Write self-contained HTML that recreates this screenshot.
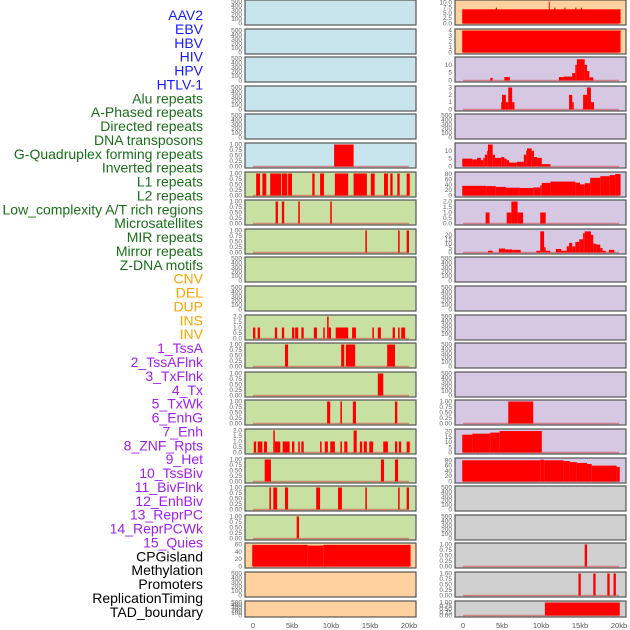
<!DOCTYPE html>
<html><head><meta charset="utf-8"><style>
html,body{margin:0;padding:0;background:#fff;width:630px;height:630px;overflow:hidden}
svg{display:block;font-family:"Liberation Sans",sans-serif}
</style></head><body>
<svg id="chart" width="630" height="630" viewBox="0 0 630 630"></svg>
<script>
// ---- track labels ----
const labelNames = ["AAV2","EBV","HBV","HIV","HPV","HTLV-1","Alu repeats","A-Phased repeats","Directed repeats","DNA transposons","G-Quadruplex forming repeats","Inverted repeats","L1 repeats","L2 repeats","Low_complexity A/T rich regions","Microsatellites","MIR repeats","Mirror repeats","Z-DNA motifs","CNV","DEL","DUP","INS","INV","1_TssA","2_TssAFlnk","3_TxFlnk","4_Tx","5_TxWk","6_EnhG","7_Enh","8_ZNF_Rpts","9_Het","10_TssBiv","11_BivFlnk","12_EnhBiv","13_ReprPC","14_ReprPCWk","15_Quies","CPGisland","Methylation","Promoters","ReplicationTiming","TAD_boundary"];
const labelColorGroups = [6,13,5,15,5]; // blue, green, orange, purple, black

// ---- x axis ----
const xTickValues = [0,5,10,15,20];
const xTickLabels = ["0","5kb","10kb","15kb","20kb"];

// ---- left column data: [startKb, endKb, value] ----
const leftRow5 = [[10.4,12.9,1]];
const leftRow6 = [[0.4,0.9,1],[1.2,1.7,1],[2.2,3.6,1],[3.7,4.4,1],[4.5,5.0,1],[7.6,7.9,1],[8.6,9.1,1],[10.5,12.2,1],[12.9,14.6,1],[15.1,15.6,1],[16.8,17.3,1],[17.6,17.9,1],[18.5,18.8,1],[19.7,20.1,1]];
const leftRow7 = [[2.9,3.2,1],[3.7,4.0,1],[5.8,6.0,1],[9.9,10.1,1]];
const leftRow8 = [[14.4,14.6,1],[18.6,18.8,1],[19.7,20.0,1]];
const leftRow11 = [[0,0.3,1],[0.6,0.9,1],[2.8,3.1,1],[3.7,4.0,1],[5.0,5.3,1],[5.4,5.8,1],[6.2,6.5,1],[7.8,8.2,1],[9.0,9.2,1],[9.5,9.7,2],[9.7,10.0,1],[10.6,12.2,1],[12.7,13.2,1],[15.3,15.5,1],[16.0,16.4,1],[17.9,18.2,1],[18.6,18.8,1],[19.0,19.5,1]];
const leftRow12 = [[4.1,4.5,1],[11.3,11.7,1],[11.9,13.1,1],[17.2,18.2,1]];
const leftRow13 = [[16.0,16.7,1]];
const leftRow14 = [[9.5,9.9,1],[11.2,11.4,1],[12.8,13.2,1],[18.2,18.5,1]];
const leftRow15 = [[0.1,0.4,1],[0.6,1.2,1],[1.4,1.8,1],[2.6,2.8,2],[2.8,3.5,1],[3.8,4.7,1],[5.0,5.3,1],[5.8,6.0,1],[6.2,6.5,1],[8.6,8.8,1],[9.2,9.6,1],[9.9,10.5,1],[11.2,11.4,1],[11.7,12.1,1],[12.9,13.3,2],[13.7,14.0,1],[14.2,14.6,1],[14.9,15.4,1],[16.7,17.3,1],[18.2,18.5,1],[18.7,19.0,1],[19.7,20.1,1]];
const leftRow16 = [[1.5,2.3,1],[16.4,16.8,1],[18.2,18.6,1]];
const leftRow17 = [[2.1,2.3,1],[2.6,3.1,1],[4.1,4.5,1],[8.1,8.6,1],[10.9,11.4,1],[14.4,14.6,1],[18.6,18.8,1],[19.7,20.0,1]];
const leftRow18 = [[5.6,5.9,1]];
const leftRow19 = [[-0.1,7.0,59],[7.0,9.0,57],[9.0,20.2,59]];

// ---- right column data ----
const rightRow0 = [[-0.1,20.2,6.7],[4.2,4.35,7.5],[11.0,11.12,10.4],[11.7,11.85,7.5],[13.0,13.15,7.5],[14.4,14.55,7.5],[15.1,15.25,7.5]];
const rightRow1 = [[-0.1,20.2,4]];
const rightRow2 = [[3.5,3.8,1.7],[5.3,6.0,2.2],[12.3,12.9,2.2],[12.9,14.0,2.5],[14.0,14.4,4.7],[14.4,14.6,10],[14.6,15.6,13.5],[15.6,15.9,10],[15.9,16.2,6],[16.2,16.7,2]];
const rightRow3 = [[4.9,5.0,1],[5.0,5.5,2],[5.5,5.8,1],[5.8,6.3,3],[6.3,6.6,1],[13.6,14.0,2],[14.0,14.2,1],[15.4,15.9,2],[15.9,16.4,3],[16.4,16.8,1]];
const rightRow5 = [[-0.1,1.2,5],[1.2,1.8,4.5],[1.8,2.3,5.5],[2.3,2.6,4],[2.6,2.8,5.5],[2.8,3.1,7.5],[3.1,3.2,10],[3.2,3.8,14],[3.8,4.1,7.5],[4.1,4.9,5.5],[4.9,5.3,6],[5.3,5.6,5],[5.6,5.9,4],[5.9,6.9,2.5],[6.9,7.8,3],[7.8,8.1,7.5],[8.1,8.2,10],[8.2,8.8,11.5],[8.8,9.1,10],[9.1,9.5,6],[9.5,10.1,5.5],[10.1,11.2,1.5]];
const rightRow6 = [[-0.1,3.0,36],[3.0,4.2,35],[4.2,5.5,32],[5.5,7.3,29],[7.3,9.0,28],[9.0,9.9,30],[9.9,10.1,38],[10.1,11.2,47],[11.2,14.4,52],[14.4,15.0,48],[15.0,15.6,41],[15.6,16.3,46],[16.3,17.6,66],[17.6,18.8,72],[18.8,19.5,76],[19.5,20.2,80]];
const rightRow7 = [[2.9,3.4,1],[5.6,6.2,1],[6.2,7.0,2],[7.0,7.7,1],[9.9,10.6,1]];
const rightRow8 = [[3.2,3.8,2],[4.6,5.4,4.5],[5.4,6.3,3.5],[6.3,7.4,3],[9.4,9.9,2],[9.9,10.4,24],[10.4,10.6,6],[10.6,11.2,2],[11.9,12.6,4],[12.6,13.3,2],[13.3,13.6,7],[13.6,14.0,11],[14.0,14.4,7],[14.4,14.9,12],[14.9,15.4,15],[15.4,15.6,22],[15.6,16.4,24],[16.4,16.7,20],[16.7,17.1,10],[17.1,17.6,9],[17.6,17.9,5],[17.9,18.3,2],[18.7,19.4,3]];
const rightRow14 = [[5.8,9.0,1]];
const rightRow15 = [[-0.1,1.2,17],[1.2,3.5,18],[3.5,4.7,19],[4.7,10.1,20.5]];
const rightRow16 = [[-0.1,9.9,80],[9.9,10.4,82],[10.4,12.9,80],[12.9,13.7,77],[13.7,14.6,73],[14.6,15.9,70],[15.9,16.5,66],[16.5,19.7,60],[19.7,20.1,55]];
const rightRow19 = [[15.6,15.9,1]];
const rightRow20 = [[14.8,15.1,1],[16.7,17.0,1],[18.5,18.8,1],[19.3,19.6,1]];
const rightRow21 = [[10.5,20.1,1]];

// ---- y tick label sets ----
const ticksEmpty = ["0","100","200","300","400","500"];
const ticksBinary = ["0.00","0.25","0.50","0.75","1.00"];
const ticksTwo = ["0.0","0.5","1.0","1.5","2.0"];

const NS="http://www.w3.org/2000/svg";
const svg=document.getElementById('chart');
function mk(tag,attrs,parent){const e=document.createElementNS(NS,tag);for(const k in attrs)e.setAttribute(k,attrs[k]);(parent||svg).appendChild(e);return e;}

// labels
const labelColors=["#1a1aff","#1a6e1a","#ffa500","#a020f0","#000"];
let gi=0,cnt=0;
labelNames.forEach((t,i)=>{
  while(cnt>=labelColorGroups[gi]){cnt=0;gi++;}
  cnt++;
  const el=mk('text',{x:203,y:15+i*13.88+5,'text-anchor':'end','font-size':'14',fill:labelColors[Math.min(gi,4)]});
  el.textContent=t;
  
  
});

const colBlue="#c8e4ec",colGreen="#c8e0a2",colOrange="#ffd19f",colPurple="#d6c7e3",colGrey="#d0d0d0";
function leftBg(r){return r<6?colBlue:(r<19?colGreen:colOrange);}
function rightBg(r){return r<2?colOrange:(r<17?colPurple:colGrey);}

const leftSpec={5:[leftRow5,1,ticksBinary],6:[leftRow6,1,ticksBinary],7:[leftRow7,1,ticksBinary],8:[leftRow8,1,ticksBinary],11:[leftRow11,2,ticksTwo],12:[leftRow12,1,ticksBinary],13:[leftRow13,1,ticksBinary],14:[leftRow14,1,ticksBinary],15:[leftRow15,2,ticksTwo],16:[leftRow16,1,ticksBinary],17:[leftRow17,1,ticksBinary],18:[leftRow18,1,ticksBinary],19:[leftRow19,60,["0","20","40","60"]]};
const rightSpec={0:[rightRow0,10.4,["0.0","2.5","5.0","7.5","10.0"],10],1:[rightRow1,4,["0","1","2","3","4"]],2:[rightRow2,14,["0","5","10"],10],3:[rightRow3,3,["0","1","2","3"]],5:[rightRow5,14,["0","5","10"],10],6:[rightRow6,82,["0","20","40","60","80"],80],7:[rightRow7,2,ticksTwo],8:[rightRow8,25,["0","5","10","15","20"],20],14:[rightRow14,1,ticksBinary],15:[rightRow15,21,["0","5","10","15","20"],20],16:[rightRow16,83,["0","20","40","60","80"],80],19:[rightRow19,1,ticksBinary],20:[rightRow20,1,ticksBinary],21:[rightRow21,1,ticksBinary]};

function drawPanel(r,side){
  const px0=side?455:245, pw=171, x0=side?463:253, k=7.8;
  const top=Math.round(r*28.6), h=r===21?16:25;
  const g=mk('g',{});
  
  
  mk('rect',{x:px0,y:top,width:pw,height:h,fill:side?rightBg(r):leftBg(r)},g);
  const spec=(side?rightSpec:leftSpec)[r];
  const yb=top+h-1.5, yt=top+1.5;
  const xs=v=>x0+v*k;
  const maxV=spec?spec[1]:500;
  const ys=v=>yb-(v/maxV)*(yb-yt);
  const ticks=spec?spec[2]:ticksEmpty;
  const lastTick=spec&&spec[3]!==undefined?spec[3]:parseFloat(ticks[ticks.length-1]);
  ticks.forEach((t,i)=>{
    const v=lastTick*i/(ticks.length-1);
    const tl=mk('text',{x:px0-3,y:ys(v)+2,'text-anchor':'end','font-size':'6.5',fill:'#666'},g);
    tl.textContent=t;
  });
  if(spec){
    mk('line',{x1:xs(0),x2:xs(20),y1:yb,y2:yb,stroke:'rgba(210,70,70,0.55)','stroke-width':1.5},g);
    spec[0].forEach(d=>{
      const b=mk('rect',{x:xs(d[0]),y:ys(d[2]),width:Math.max(0.8,(d[1]-d[0])*k),height:yb-ys(d[2]),fill:'#ff0000'},g);
      
      
    });
  }
  mk('rect',{x:px0,y:top,width:pw,height:h,fill:'none',stroke:'#555','stroke-width':1.2},g);
}
for(let r=0;r<22;r++){drawPanel(r,0);drawPanel(r,1);}

// x axes
[253,463].forEach((x0,si)=>{
  xTickValues.forEach((v,i)=>{
    const t=mk('text',{x:x0+v*7.8,y:628,'text-anchor':'middle','font-size':'7.5',fill:'#555'});
    t.textContent=xTickLabels[i];
    
    
  });
});
</script>
</body></html>
